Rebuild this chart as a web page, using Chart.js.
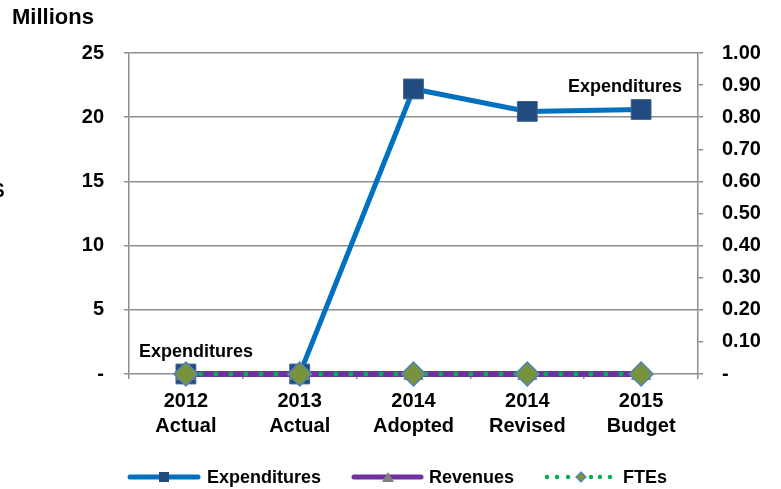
<!DOCTYPE html>
<html>
<head>
<meta charset="utf-8">
<script src="https://cdn.jsdelivr.net/npm/chart.js@4/dist/chart.umd.min.js"></script>
<style>
  html, body { margin: 0; padding: 0; background: #ffffff; }
  #wrap { width: 781px; height: 489px; position: relative; }
</style>
</head>
<body>
<div id="wrap"><canvas id="fundChart" width="781" height="489"></canvas></div>
<script>
// categories and values (millions / FTEs)
const categories = [['2012', 'Actual'], ['2013', 'Actual'], ['2014', 'Adopted'], ['2014', 'Revised'], ['2015', 'Budget']];
const expenditures = [0, 0, 22.2, 20.45, 20.6];
const revenues = [0, 0, 0, 0, 0];
const ftes = [0, 0, 0, 0, 0];
const leftTicks = [0, 5, 10, 15, 20, 25];
const rightTicks = [0, 0.1, 0.2, 0.3, 0.4, 0.5, 0.6, 0.7, 0.8, 0.9, 1.0];

const FONT = "'Liberation Sans', Arial, sans-serif";
const GRID = '#8e8e8e';

// labels on the expenditure line (index, dx, dy)
const pointLabels = [
  { index: 0, dx: 10, dy: -22 },
  { index: 4, dx: -16, dy: -22 }
];

const extrasPlugin = {
  id: 'extras',
  afterDatasetsDraw(chart) {
    const ctx = chart.ctx;
    const meta = chart.getDatasetMeta(0);
    ctx.save();
    ctx.fillStyle = '#000';
    ctx.font = 'bold 18px ' + FONT;
    ctx.textAlign = 'center';
    ctx.textBaseline = 'middle';
    pointLabels.forEach(l => {
      const p = meta.data[l.index];
      ctx.fillText('Expenditures', p.x + l.dx, p.y + l.dy);
    });
    ctx.restore();
  },
  afterDraw(chart) {
    const ctx = chart.ctx;
    ctx.save();
    // unit title
    ctx.fillStyle = '#000';
    ctx.font = 'bold 22px ' + FONT;
    ctx.textAlign = 'left';
    ctx.textBaseline = 'middle';
    ctx.fillText('Millions', 12, 18);
    // clipped axis title at left edge
    ctx.font = 'bold 20px ' + FONT;
    ctx.textAlign = 'right';
    ctx.fillText('$', 4, 191);

    // legend
    const ly = 477;
    ctx.lineCap = 'round';
    // Expenditures
    ctx.strokeStyle = '#0070C0';
    ctx.lineWidth = 5;
    ctx.beginPath(); ctx.moveTo(130, ly); ctx.lineTo(198, ly); ctx.stroke();
    ctx.fillStyle = '#234b7f';
    ctx.fillRect(159, ly - 5, 10, 10);
    // Revenues
    ctx.strokeStyle = '#7030A0';
    ctx.beginPath(); ctx.moveTo(354, ly); ctx.lineTo(421, ly); ctx.stroke();
    ctx.fillStyle = '#7f7f7f';
    ctx.beginPath(); ctx.moveTo(388, ly - 5); ctx.lineTo(394, ly + 5); ctx.lineTo(382, ly + 5); ctx.closePath(); ctx.fill();
    // FTEs
    ctx.fillStyle = '#00B050';
    [547, 557, 568, 591, 600, 610].forEach(x => {
      ctx.beginPath(); ctx.arc(x, ly, 2.2, 0, Math.PI * 2); ctx.fill();
    });
    ctx.beginPath();
    ctx.moveTo(581, ly - 5); ctx.lineTo(586, ly); ctx.lineTo(581, ly + 5); ctx.lineTo(576, ly); ctx.closePath();
    ctx.fillStyle = '#77933C'; ctx.fill();
    ctx.strokeStyle = '#4F81BD'; ctx.lineWidth = 1.2; ctx.stroke();

    ctx.fillStyle = '#000';
    ctx.font = 'bold 18px ' + FONT;
    ctx.textAlign = 'left';
    ctx.fillText('Expenditures', 207, ly + 1);
    ctx.fillText('Revenues', 429, ly + 1);
    ctx.fillText('FTEs', 623, ly + 1);
    ctx.restore();
  }
};

const ctx = document.getElementById('fundChart').getContext('2d');
new Chart(ctx, {
  type: 'line',
  data: {
    labels: categories,
    datasets: [
      {
        label: 'Expenditures',
        data: expenditures,
        yAxisID: 'y',
        clip: false,
        borderColor: '#0070C0',
        borderWidth: 5,
        pointStyle: 'rect',
        pointRadius: 14,
        pointBackgroundColor: '#234b7f',
        pointBorderColor: '#3d6392',
        pointBorderWidth: 1,
        order: 3
      },
      {
        label: 'Revenues',
        data: revenues,
        yAxisID: 'y',
        clip: false,
        borderColor: '#7030A0',
        borderWidth: 6,
        pointStyle: 'triangle',
        pointRadius: 11,
        pointBackgroundColor: '#7f7f7f',
        pointBorderColor: '#7f7f7f',
        pointBorderWidth: 1,
        order: 2
      },
      {
        label: 'FTEs',
        data: ftes,
        yAxisID: 'y1',
        clip: false,
        borderColor: '#00B050',
        borderWidth: 5,
        borderDash: [0, 15],
        borderCapStyle: 'round',
        pointStyle: 'rectRot',
        pointRadius: 12,
        pointBackgroundColor: '#77933C',
        pointBorderColor: '#4F81BD',
        pointBorderWidth: 1.5,
        order: 1
      }
    ]
  },
  options: {
    responsive: false,
    animation: false,
    layout: { padding: { top: 53, left: 0, right: 0, bottom: 0 } },
    plugins: {
      legend: { display: false },
      tooltip: { enabled: false }
    },
    scales: {
      x: {
        offset: true,
        afterFit: (scale) => { scale.height = 115; },
        grid: {
          offset: true,
          drawOnChartArea: false,
          color: GRID,
          lineWidth: 1.5,
          tickLength: 5
        },
        border: { display: false },
        ticks: {
          color: '#000',
          padding: 10,
          font: { family: FONT, size: 20, weight: 'bold', lineHeight: 1.25 },
          maxRotation: 0
        }
      },
      y: {
        position: 'left',
        min: 0,
        max: 25,
        afterFit: (scale) => { scale.width = 129; },
        afterBuildTicks: (scale) => { scale.ticks = leftTicks.map(v => ({ value: v })); },
        grid: { color: GRID, lineWidth: 1.5, tickLength: 5 },
        border: { color: GRID, width: 1.5 },
        ticks: {
          color: '#000',
          padding: 20,
          font: { family: FONT, size: 20, weight: 'bold' },
          callback: (v) => v === 0 ? '-' : String(v)
        }
      },
      y1: {
        position: 'right',
        min: 0,
        max: 1,
        afterFit: (scale) => { scale.width = 83; },
        afterBuildTicks: (scale) => { scale.ticks = rightTicks.map(v => ({ value: v })); },
        grid: { drawOnChartArea: false, color: GRID, lineWidth: 1.5, tickLength: 5 },
        border: { color: GRID, width: 1.5 },
        ticks: {
          color: '#000',
          padding: 19,
          font: { family: FONT, size: 20, weight: 'bold' },
          callback: (v) => v === 0 ? '-' : v.toFixed(2)
        }
      }
    }
  },
  plugins: [extrasPlugin]
});
</script>
</body>
</html>
